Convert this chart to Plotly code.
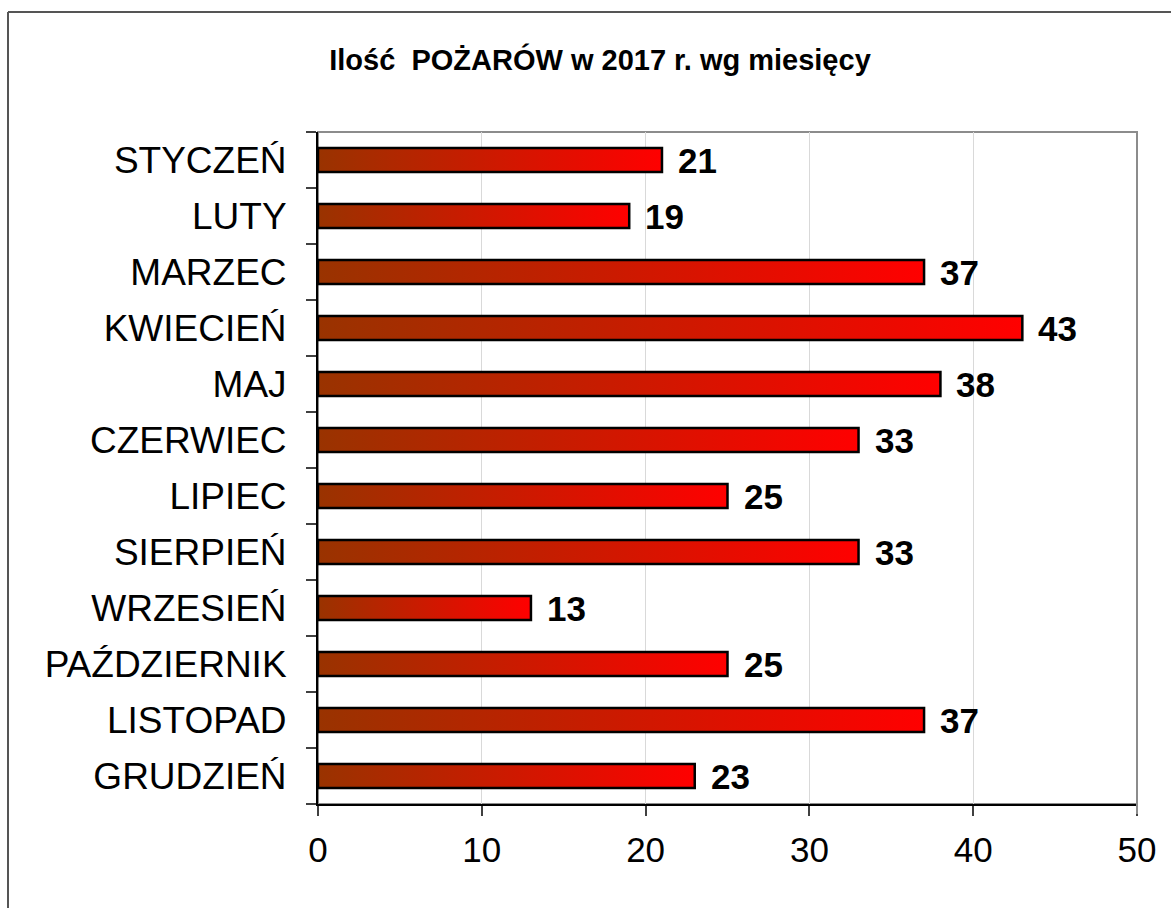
import plotly.graph_objects as go

# ---- data ----
months = ["STYCZEŃ", "LUTY", "MARZEC", "KWIECIEŃ", "MAJ", "CZERWIEC",
          "LIPIEC", "SIERPIEŃ", "WRZESIEŃ", "PAŹDZIERNIK", "LISTOPAD", "GRUDZIEŃ"]
fires = [21, 19, 37, 43, 38, 33, 25, 33, 13, 25, 37, 23]
x_ticks = [0, 10, 20, 30, 40, 50]
title_text = "Ilość\u00a0 POŻARÓW w 2017 r. wg miesięcy"

# ---- layout constants ----
W, H = 1171, 908
L, R, T, B = 318, 1137, 132, 804
HALF = 0.215
FONT = "Liberation Sans, Arial, sans-serif"

fig = go.Figure()

for i, (m, v) in enumerate(zip(months, fires)):
    fig.add_trace(go.Scatter(
        x=[0, v, v, 0, 0],
        y=[i - HALF, i - HALF, i + HALF, i + HALF, i - HALF],
        mode="lines", fill="toself",
        fillgradient=dict(type="horizontal",
                          colorscale=[[0, "#993300"], [1, "#ff0000"]],
                          start=0, stop=v),
        line=dict(color="black", width=2.5),
        name=m, showlegend=False, hoverinfo="skip",
    ))

for i, v in enumerate(fires):
    fig.add_annotation(
        x=v, y=i, text=str(v), showarrow=False,
        xanchor="left", yanchor="middle", xshift=14, yshift=0,
        font=dict(size=35, family=FONT, color="black", weight="bold"),
    )

# plot-area border (grey top/right)
fig.add_shape(type="rect", xref="paper", yref="paper", x0=0, x1=1, y0=0, y1=1,
              line=dict(color="#8c8c8c", width=2), layer="below")
# right border extension as tick at 50
fig.add_shape(type="line", xref="paper", yref="paper", x0=1, x1=1,
              y0=0, y1=-10 / (B - T), line=dict(color="#8c8c8c", width=2))

# outer chart frame (left and top visible)
xl = (8 - L) / (R - L)
yt = (B - 12) / (B - T)
fig.add_shape(type="line", xref="paper", yref="paper", x0=xl, x1=xl, y0=yt, y1=-1,
              line=dict(color="#555555", width=2))
fig.add_shape(type="line", xref="paper", yref="paper", x0=xl, x1=2, y0=yt, y1=yt,
              line=dict(color="#555555", width=2))

fig.update_layout(
    width=W, height=H,
    margin=dict(l=L, r=W - R, t=T, b=H - B, autoexpand=False),
    paper_bgcolor="white", plot_bgcolor="white",
    title=dict(text=title_text, x=600 / W, xref="container", xanchor="center",
               y=1 - 60 / H, yref="container", yanchor="middle",
               font=dict(size=29, family=FONT, color="black", weight="bold")),
    xaxis=dict(range=[0, 50], tickvals=x_ticks, ticks="outside", ticklen=10,
               tickcolor="#404040", tickwidth=1.5,
               showline=True, linecolor="black", linewidth=2,
               showgrid=True, gridcolor="#d9d9d9", gridwidth=1, zeroline=False,
               tickfont=dict(size=35, family=FONT, color="black"),
               ticklabelstandoff=4),
    yaxis=dict(range=[len(months) - 0.5, -0.5],
               tickvals=list(range(len(months))), ticktext=months, ticks="",
               showline=True, linecolor="black", linewidth=2,
               showgrid=False, zeroline=False,
               tickfont=dict(size=37, family=FONT, color="black"),
               ticklabelstandoff=22,
               minor=dict(tickvals=[i - 0.5 for i in range(len(months) + 1)],
                          ticks="outside", ticklen=10, tickcolor="#404040",
                          tickwidth=1.5, showgrid=False)),
)

fig.write_html("out.html", config={"displayModeBar": False},
               post_script="document.body.style.margin='0';document.body.style.overflow='hidden';")
